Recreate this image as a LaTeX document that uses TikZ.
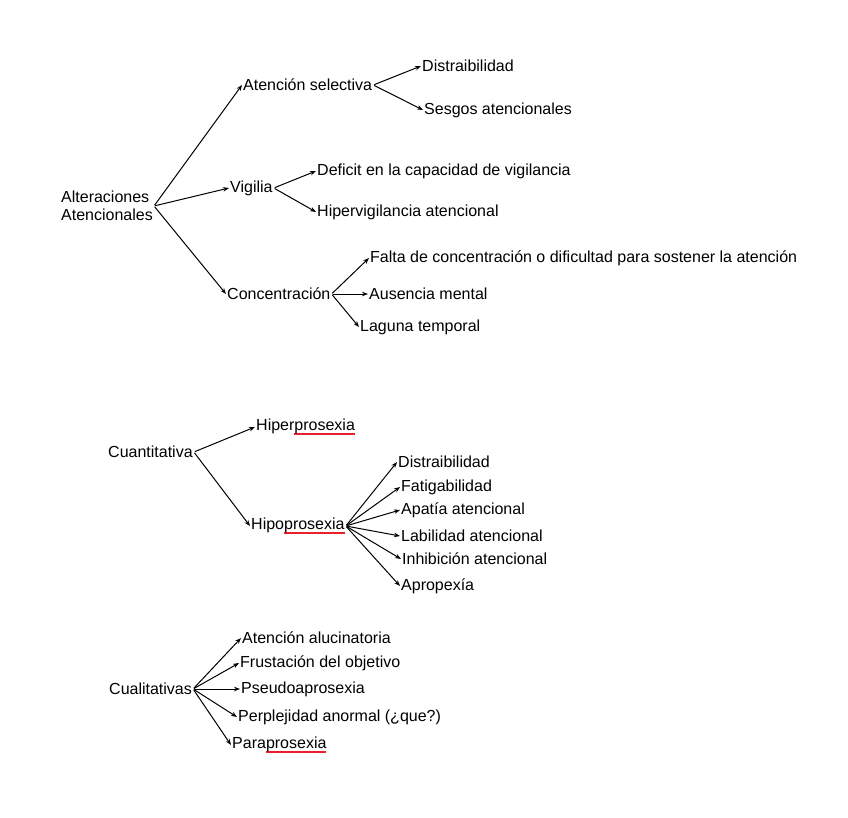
\documentclass[tikz,border=0pt]{standalone}
\usepackage{fontspec}
\setmainfont{Liberation Sans}
\usepackage{xcolor}
\usetikzlibrary{arrows.meta}
\definecolor{atred}{HTML}{E8202E}
\newsavebox\redbox
\newcommand\redul[1]{\sbox\redbox{#1}\rlap{\textcolor{atred}{\rule[-4pt]{\wd\redbox}{1.5pt}}}\usebox\redbox}
\tikzset{
  atlabel/.style={anchor=west, inner sep=1pt, font=\fontsize{16}{18}\selectfont},
  atroot/.style={atlabel, align=left},
  atarrow/.style={line width=1pt, draw=black, shorten <=1pt, -{Stealth[length=6pt,width=4.5pt]}},
}

\begin{document}
\begin{tikzpicture}[x=1pt, y=-1pt]
\useasboundingbox (0,0) rectangle (848,817);
\fill[white] (0,0) rectangle (848,817);

\node[atroot] (alt) at (60,206) {Alteraciones\\Atencionales};
\node[atlabel] (sel) at (242,85) {Atención selectiva};
\node[atlabel] (dis) at (421,66) {Distraibilidad};
\node[atlabel] (ses) at (423,110) {Sesgos atencionales};
\node[atlabel] (vig) at (229,188) {Vigilia};
\node[atlabel] (def) at (316,171) {Deficit en la capacidad de vigilancia};
\node[atlabel] (hvg) at (316,212) {Hipervigilancia atencional};
\node[atlabel] (con) at (226,294) {Concentración};
\node[atlabel] (fal) at (369,258) {Falta de concentración o dificultad para sostener la atención};
\node[atlabel] (aus) at (368,294) {Ausencia mental};
\node[atlabel] (lag) at (359,327) {Laguna temporal};
\draw[atarrow] (alt.east) -- (sel.west);
\draw[atarrow] (alt.east) -- (vig.west);
\draw[atarrow] (alt.east) -- (con.west);
\draw[atarrow] (sel.east) -- (dis.west);
\draw[atarrow] (sel.east) -- (ses.west);
\draw[atarrow] (vig.east) -- (def.west);
\draw[atarrow] (vig.east) -- (hvg.west);
\draw[atarrow] (con.east) -- (fal.west);
\draw[atarrow] (con.east) -- (aus.west);
\draw[atarrow] (con.east) -- (lag.west);

\node[atlabel] (cuan) at (107,452) {Cuantitativa};
\node[atlabel] (hiper) at (255,427) {Hiper\redul{prosexia}};
\node[atlabel] (hipo) at (250,526) {Hipo\redul{prosexia}};
\node[atlabel] (hdis) at (397,462) {Distraibilidad};
\node[atlabel] (hfat) at (400,487) {Fatigabilidad};
\node[atlabel] (hapa) at (400,510) {Apatía atencional};
\node[atlabel] (hlab) at (400,536) {Labilidad atencional};
\node[atlabel] (hinh) at (401,559) {Inhibición atencional};
\node[atlabel] (hapr) at (400,586) {Apropexía};
\draw[atarrow] (cuan.east) -- (hiper.west);
\draw[atarrow] (cuan.east) -- (hipo.west);
\foreach \leaf in {hdis,hfat,hapa,hlab,hinh,hapr}
  \draw[atarrow] (hipo.east) -- (\leaf.west);

\node[atlabel] (cual) at (108,689) {Cualitativas};
\node[atlabel] (alu) at (241,638) {Atención alucinatoria};
\node[atlabel] (fru) at (239,663) {Frustación del objetivo};
\node[atlabel] (pse) at (240,689) {Pseudoaprosexia};
\node[atlabel] (per) at (237,717) {Perplejidad anormal (¿que?)};
\node[atlabel] (par) at (231,745) {Para\redul{prosexia}};
\foreach \leaf in {alu,fru,pse,per,par}
  \draw[atarrow] (cual.east) -- (\leaf.west);
\end{tikzpicture}
\end{document}
